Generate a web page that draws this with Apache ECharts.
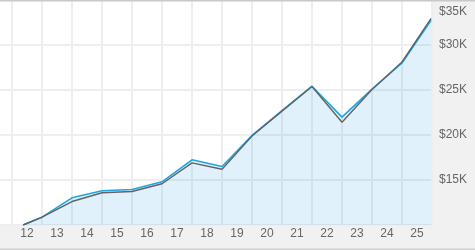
<!DOCTYPE html>
<html>
<head>
<meta charset="utf-8">
<script src="https://cdn.jsdelivr.net/npm/echarts@6/dist/echarts.min.js"></script>
<style>
html,body{margin:0;padding:0;background:#f1f1f1;}
#c{width:475px;height:250px;}
</style>
</head>
<body>
<div id="c"></div>
<script>
// Data (x = fractional year, y = dollars)
const yearLabels = ['12','13','14','15','16','17','18','19','20','21','22','23','24','25'];
const xYears = [2012.37, 2013, 2014, 2015, 2016, 2017, 2018, 2019, 2020, 2021, 2022, 2023, 2024, 2025, 2025.97];
const blueValues = [10000, 10870, 13020, 13800, 13940, 14800, 17240, 16500, 19950, 22700, 25420, 21980, 25100, 28000, 32750];
const grayValues = [10000, 10870, 12610, 13580, 13720, 14580, 16910, 16200, 19890, 22650, 25390, 21420, 25050, 28110, 32970];
const yTicks = { min: 10000, max: 35000, step: 5000 };

const chart = echarts.init(document.getElementById('c'), null, { renderer: 'canvas' });
const font = 'Liberation Sans, Arial, sans-serif';

chart.setOption({
  backgroundColor: '#f1f1f1',
  animation: false,
  graphic: [
    { type: 'rect', z: -10, shape: { x: 0, y: 0, width: 432, height: 225 }, style: { fill: '#ffffff' }, silent: true },
    { type: 'rect', z: 100, shape: { x: 0, y: 0, width: 475, height: 1.5 }, style: { fill: '#c9c9c9' }, silent: true },
    { type: 'rect', z: 100, shape: { x: 0, y: 248.5, width: 475, height: 1.5 }, style: { fill: '#cfcfcf' }, silent: true }
  ],
  grid: [
    { left: 0, top: 0, width: 432, height: 225 },
    { left: 12, top: 0, width: 420, height: 225 }
  ],
  xAxis: [
    { type: 'value', gridIndex: 0, min: 2011.6, max: 2026, show: false },
    {
      type: 'category', gridIndex: 1, data: yearLabels, boundaryGap: true,
      axisLine: { show: false }, axisTick: { show: false },
      axisLabel: { color: '#666', fontSize: 12, fontFamily: font, margin: 3 },
      splitLine: { show: true, lineStyle: { color: '#eeeeee', width: 2 } }
    }
  ],
  yAxis: [
    {
      type: 'value', gridIndex: 0, position: 'right',
      min: yTicks.min, max: yTicks.max, interval: yTicks.step,
      axisLine: { show: false }, axisTick: { show: false },
      splitLine: { show: true, lineStyle: { color: '#eeeeee', width: 2 } },
      axisLabel: {
        showMinLabel: false, margin: 7, color: '#666', fontSize: 12, fontFamily: font,
        formatter: function (v) {
          const s = '$' + (v / 1000) + 'K';
          return v === yTicks.max ? '{t|' + s + '}' : s;
        },
        rich: { t: { padding: [24, 0, 0, 0], color: '#666', fontSize: 12, fontFamily: font } }
      }
    },
    { type: 'value', gridIndex: 1, show: false, min: 0, max: 1 }
  ],
  series: [
    {
      type: 'line', xAxisIndex: 0, yAxisIndex: 0,
      data: xYears.map((x, i) => [x, blueValues[i]]),
      showSymbol: false, symbol: 'none',
      lineStyle: { color: '#1fa6e2', width: 1.6 },
      areaStyle: { color: 'rgba(30,150,225,0.19)', origin: 'start' },
      z: 3
    },
    {
      type: 'line', xAxisIndex: 0, yAxisIndex: 0,
      data: xYears.map((x, i) => [x, grayValues[i]]),
      showSymbol: false, symbol: 'none',
      lineStyle: { color: '#5f6468', width: 1.4 },
      z: 4
    }
  ]
});
</script>
</body>
</html>
